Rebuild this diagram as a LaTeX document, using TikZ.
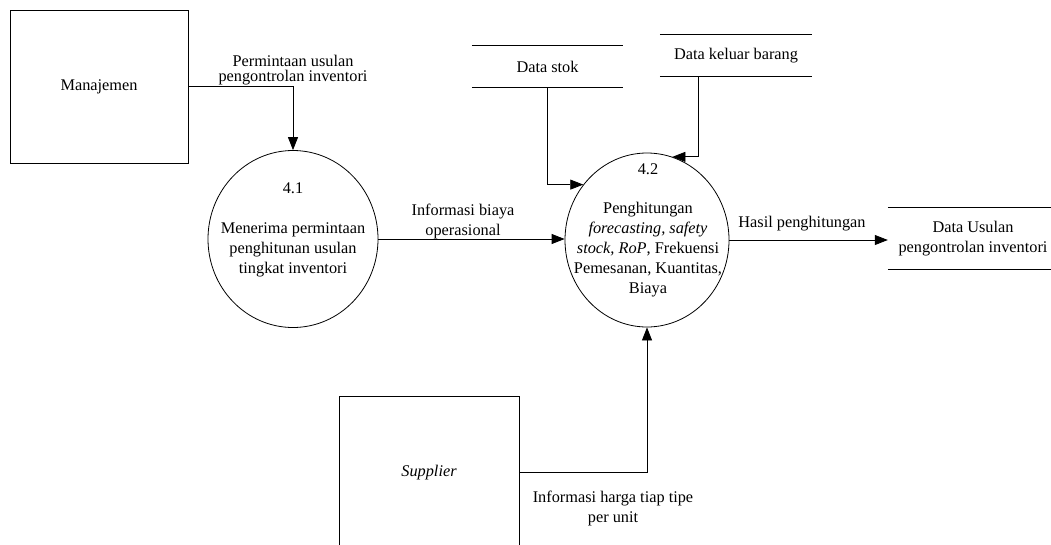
\documentclass[tikz,border=0pt]{standalone}
\usepackage{fontspec}
\setmainfont{Liberation Serif}
\usetikzlibrary{arrows.meta,shapes.geometric,calc}

\begin{document}
\begin{tikzpicture}[x=1pt,y=-1pt,
  every node/.style={font=\fontsize{16.3}{20}\selectfont, inner sep=0pt, align=center},
  tight/.style={font=\fontsize{16.3}{14.5}\selectfont},
  entity/.style={draw, line width=0.8pt, minimum height=153pt},
  proc/.style={draw, ellipse, line width=0.8pt},
  store/.style={minimum height=41pt},
  storeline/.style={line width=0.8pt},
  flow/.style={line width=0.8pt, -{Triangle[length=13pt,width=10pt]}},
]
\useasboundingbox (0,0) rectangle (1051,544);
\clip (0,0) rectangle (1051,544);

% external entities
\node[entity, minimum width=178pt] (man) at (99,86.5) {Manajemen};
\node[entity, minimum width=180pt] (sup) at (429,472.5) {\itshape Supplier};

% processes
\node[proc, minimum width=170pt, minimum height=177pt] (p41) at (293,239) {};
\node (p41num) at (293,188) {4.1};
\node (p41txt) at (293,250) {Menerima permintaan\\penghitunan usulan\\tingkat inventori};

\node[proc, minimum width=164pt, minimum height=174pt] (p42) at (647,240) {};
\node (p42num) at (648,169) {4.2};
\node (p42txt) at (648,250) {Penghitungan\\\textit{forecasting, safety}\\\textit{stock, RoP}, Frekuensi\\Pemesanan, Kuantitas,\\Biaya};

% data stores (open-ended: top and bottom lines only)
\node[store, minimum width=151pt] (ds) at (547.5,66.5) {Data stok};
\node[store, minimum width=152pt] (dk) at (736,55.5) {Data keluar barang};
\node[store, minimum width=170pt, minimum height=61pt] (du) at (973,238.5) {Data Usulan\\pengontrolan inventori};
\foreach \s in {ds,dk,du}{
  \draw[storeline] (\s.north west) -- (\s.north east);
  \draw[storeline] (\s.south west) -- (\s.south east);
}

% data flows
\draw[flow] (man.east) -| (p41.north);
\draw[flow] (p41.east) -- (p41.east -| p42.west);
\draw[flow] (ds.south) |- (p42.139);
\draw[flow] ($(dk.south west)!0.25!(dk.south east)$) |- (p42.73.5);
\draw[flow] (p42.east) -- (p42.east -| du.west);
\draw[flow] (sup.east) -| (p42.south);

% flow labels
\node[tight] (l1) at (293,70) {Permintaan usulan\\pengontrolan inventori};
\node (l2) at (463,221.5) {Informasi biaya\\operasional};
\node (l3) at (802,224) {Hasil penghitungan};
\node (l4) at (613,508) {Informasi harga tiap tipe\\per unit};
\end{tikzpicture}
\end{document}
